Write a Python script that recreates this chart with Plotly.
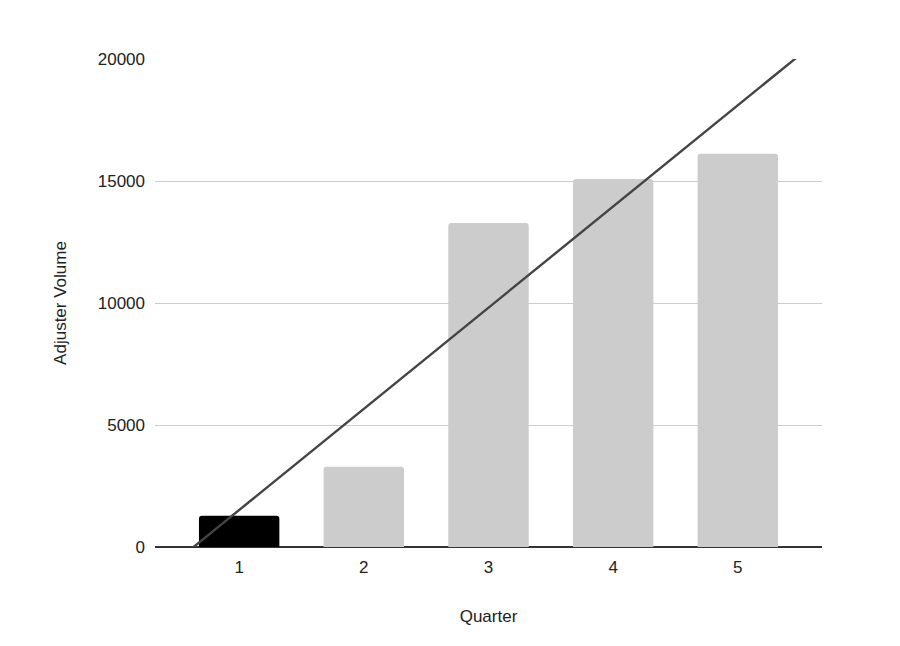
import numpy as np
import plotly.graph_objects as go

quarters = [1, 2, 3, 4, 5]
adjuster_volume = [1280, 3290, 13280, 15080, 16120]
bar_colors = ["#000000", "#cccccc", "#cccccc", "#cccccc", "#cccccc"]
y_ticks = [0, 5000, 10000, 15000, 20000]

# linear trendline computed from data
slope, intercept = np.polyfit(quarters, adjuster_volume, 1)
x_min, x_max = 0.325, 5.675
trend_x = [x_min, x_max]
trend_y = [slope * x + intercept for x in trend_x]

fig = go.Figure()
fig.add_trace(go.Bar(
    x=quarters, y=adjuster_volume, width=0.645,
    marker=dict(color=bar_colors, line=dict(width=0), cornerradius=3),
    showlegend=False,
))
fig.add_trace(go.Scatter(
    x=trend_x, y=trend_y, mode="lines",
    line=dict(color="#444444", width=2.4), showlegend=False,
))

fig.update_layout(
    width=892, height=638,
    margin=dict(l=147, r=78, t=51, b=99),
    paper_bgcolor="white", plot_bgcolor="white",
    font=dict(family="Liberation Sans, Arial, sans-serif", size=17, color="#222222"),
)
fig.update_xaxes(
    range=[x_min, x_max], tickvals=quarters, ticktext=[str(q) for q in quarters],
    showgrid=False, zeroline=False, showline=False, ticks="",
    ticklabelstandoff=8,
    title=dict(text="Quarter", standoff=34, font=dict(size=17)),
)
fig.update_yaxes(
    range=[0, 20000], tickvals=y_ticks, ticktext=[str(t) for t in y_ticks],
    showgrid=True, gridcolor="#cccccc", gridwidth=1.2,
    zeroline=True, zerolinecolor="#333333", zerolinewidth=1.5,
    showline=False, ticks="", ticklabelstandoff=9,
    title=dict(text="Adjuster Volume", standoff=26, font=dict(size=17)),
)

fig.write_html("out.html")
